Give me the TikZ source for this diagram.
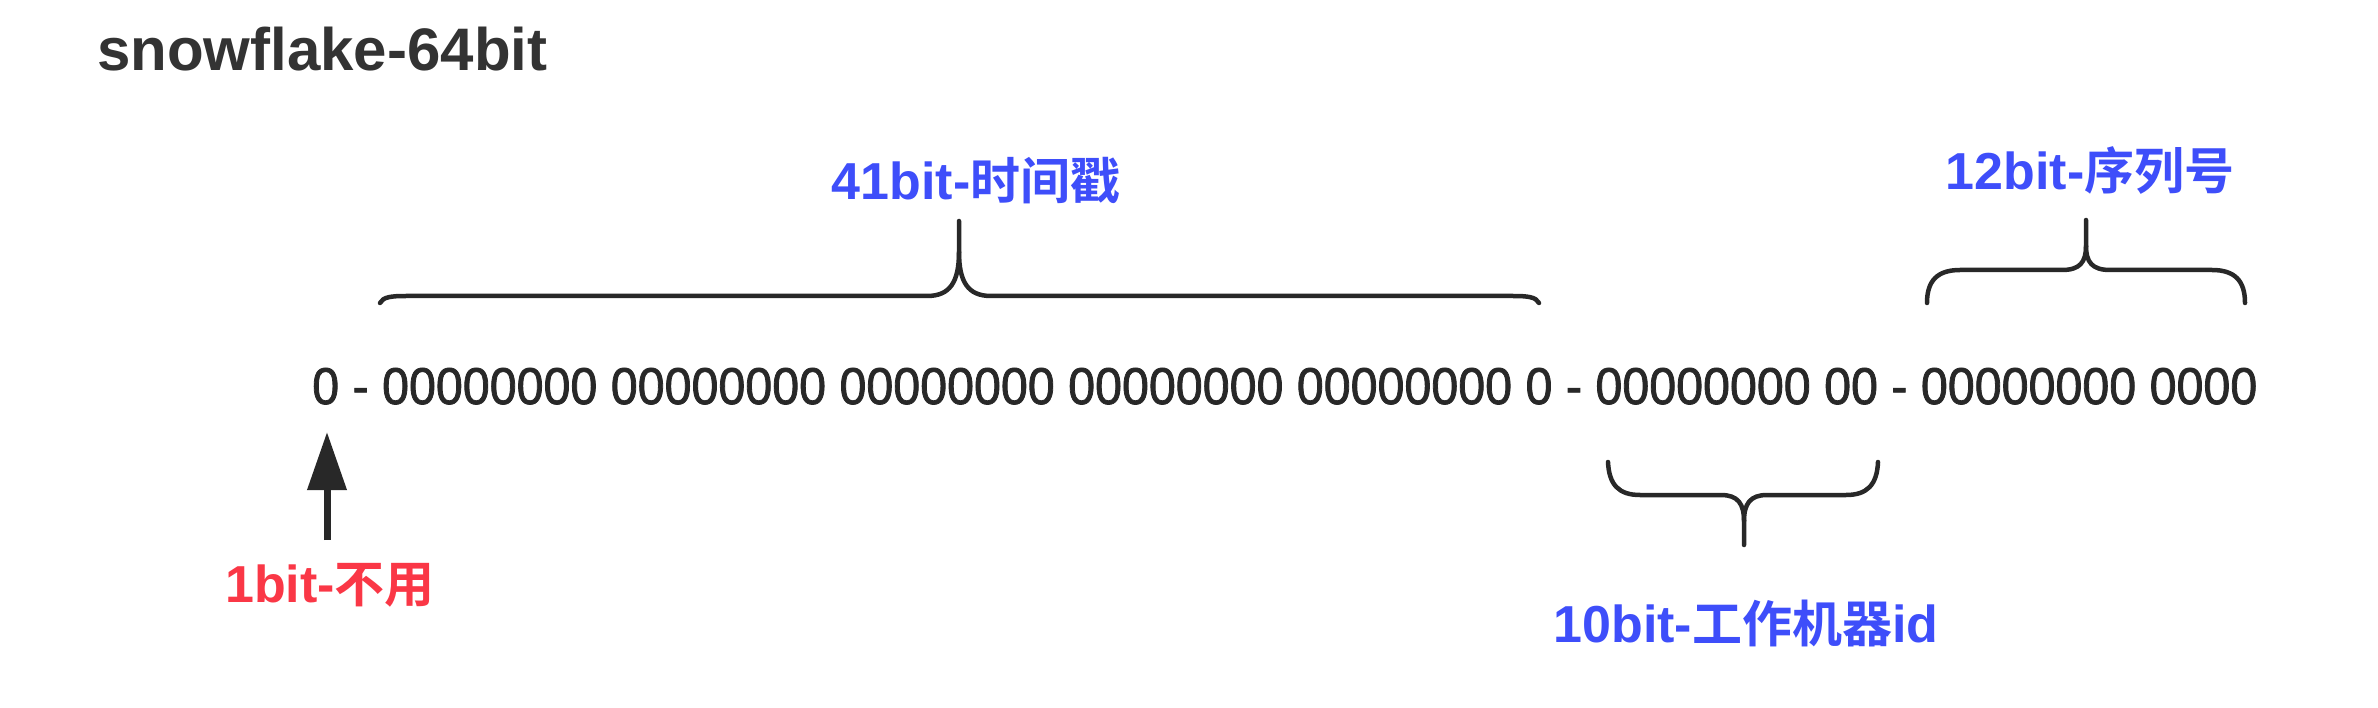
\documentclass[tikz,border=0pt]{standalone}
\usepackage{fontspec}
\setmainfont{Liberation Sans}
\newfontfamily\cjk[BoldFont={Noto Sans CJK SC Bold}]{Noto Sans CJK SC}
\newfontfamily\bitfont[FakeStretch=0.936,FakeBold=1.5]{Liberation Sans}
\usetikzlibrary{arrows.meta}
\definecolor{ink}{RGB}{40,40,40}
\definecolor{tink}{RGB}{51,51,51}
\definecolor{lblue}{RGB}{62,78,250}
\definecolor{lred}{RGB}{250,55,70}
\newcommand\cjkpart[1]{{\cjk\bfseries\fontsize{50}{60}\selectfont #1}}
\tikzset{
  lab/.style={inner sep=0pt, anchor=base, font=\fontsize{52}{60}\selectfont\bfseries},
  bracepath/.style={draw=ink, line width=4.5pt, line cap=round, line join=round},
  uparrow/.style={draw=ink, line width=7pt, -{Triangle[length=58pt,width=38pt]}}
}
\begin{document}
\begin{tikzpicture}[x=1pt,y=-1pt]
\path[use as bounding box, fill=white] (0,0) rectangle (2378,708);

% title
\node[inner sep=0pt, anchor=base west, text=tink, font=\fontsize{60}{70}\selectfont\bfseries] (title) at (97,71) {snowflake-64bit};

% bit row
\node[inner sep=0pt, anchor=base, text=ink, font=\bitfont\fontsize{51.7}{60}\selectfont] (row) at (1285,404)
  {0 - 00000000 00000000 00000000 00000000 00000000 0 - 00000000 00 - 00000000 0000};

% labels
\node[lab, text=lblue] (ts) at (976,200) {41bit-\cjkpart{时间戳}};
\node[lab, text=lblue] (seq) at (2090,190) {12bit-\cjkpart{序列号}};
\node[lab, text=lblue] (wid) at (1746,642) {10bit-\cjkpart{工作机器}id};
\node[lab, text=lred] (unused) at (330,602) {1bit-\cjkpart{不用}};

% 41bit brace
\draw[bracepath] (380,303) .. controls (383,297) and (391,296) .. (406,296) -- (927,296)
  .. controls (950,296) and (959,282) .. (959,252) -- (959,221);
\draw[bracepath] (1539,303) .. controls (1536,297) and (1528,296) .. (1513,296) -- (991,296)
  .. controls (968,296) and (959,282) .. (959,252);

% 12bit brace
\draw[bracepath] (1927,303) .. controls (1927,281) and (1937,270) .. (1960,270) -- (2062,270)
  .. controls (2080,270) and (2086,262) .. (2086,246) -- (2086,220);
\draw[bracepath] (2245,303) .. controls (2245,281) and (2235,270) .. (2212,270) -- (2110,270)
  .. controls (2092,270) and (2086,262) .. (2086,246);

% 10bit brace
\draw[bracepath] (1608,462) .. controls (1609,485) and (1619,495) .. (1640,495) -- (1721,495)
  .. controls (1738,495) and (1744,504) .. (1744,521) -- (1744,545);
\draw[bracepath] (1878,462) .. controls (1877,485) and (1867,495) .. (1846,495) -- (1767,495)
  .. controls (1750,495) and (1744,504) .. (1744,521);

% arrow for the unused bit
\coordinate (tip) at (327,432);
\coordinate (tail) at (327,540);
\draw[uparrow] (tail) -- (tip);
\end{tikzpicture}
\end{document}
